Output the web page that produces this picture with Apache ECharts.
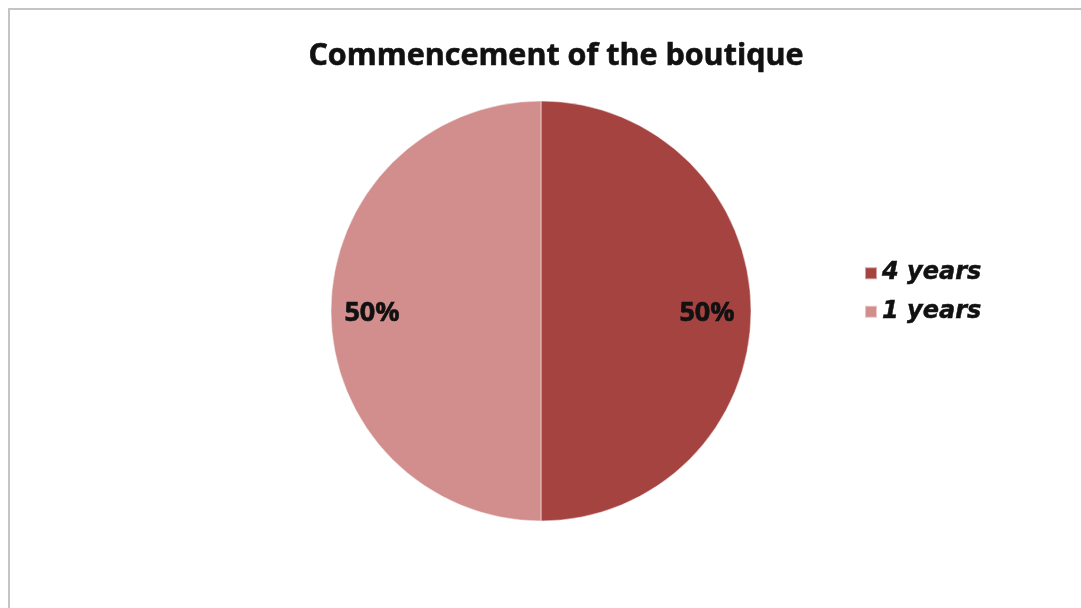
<!DOCTYPE html>
<html>
<head>
<meta charset="utf-8">
<script src="https://cdn.jsdelivr.net/npm/echarts@6/dist/echarts.min.js"></script>
<style>
  html, body { margin: 0; padding: 0; background: #ffffff; }
  #frame { position: absolute; left: 8px; top: 8px; width: 1090px; height: 620px;
           border-left: 2px solid #c4c4c4; border-top: 2px solid #c4c4c4; }
  #chart { position: absolute; left: 0; top: 0; width: 1081px; height: 608px; }
</style>
</head>
<body>
<div id="frame"></div>
<div id="chart"></div>
<script>
// Share of boutiques by time since opening
const chartTitle = 'Commencement of the boutique';
const categories = ['4 years', '1 years'];
const shares = [50, 50];
const sliceColors = ['#a54341', '#d18e8d'];

const chart = echarts.init(document.getElementById('chart'), null, { renderer: 'canvas' });

chart.setOption({
  backgroundColor: 'transparent',
  title: {
    text: chartTitle,
    left: 551,
    top: 36,
    textAlign: 'center',
    textStyle: { fontFamily: 'Open Sans', fontWeight: 'bold', fontSize: 30.5, color: '#111',
                 textBorderColor: '#111', textBorderWidth: 0.6 }
  },
  legend: {
    orient: 'vertical',
    left: 859,
    top: 256,
    itemWidth: 12,
    itemHeight: 12,
    itemGap: 14,
    icon: 'rect',
    data: categories,
    textStyle: { fontFamily: 'DejaVu Sans', fontWeight: 'bold', fontStyle: 'italic', fontSize: 24, color: '#111',
                 padding: [0, 0, 0, 0], textBorderColor: '#111', textBorderWidth: 0.5 }
  },
  series: [{
    type: 'pie',
    center: [541, 311],
    radius: 210,
    startAngle: 90,
    clockwise: true,
    silent: true,
    itemStyle: { borderColor: 'rgba(255,255,255,0.5)', borderWidth: 1 },
    label: {
      show: true,
      position: 'inside',
      formatter: '{d}%',
      fontFamily: 'Open Sans',
      fontWeight: 'bold',
      fontSize: 27,
      color: '#111',
      textBorderColor: '#111',
      textBorderWidth: 0.6
    },
    labelLayout: function (p) {
      return { dx: p.dataIndex === 0 ? 58 : -61, dy: 2 };
    },
    data: categories.map((name, i) => ({
      name: name,
      value: shares[i],
      itemStyle: { color: sliceColors[i] }
    }))
  }]
});
</script>
</body>
</html>
